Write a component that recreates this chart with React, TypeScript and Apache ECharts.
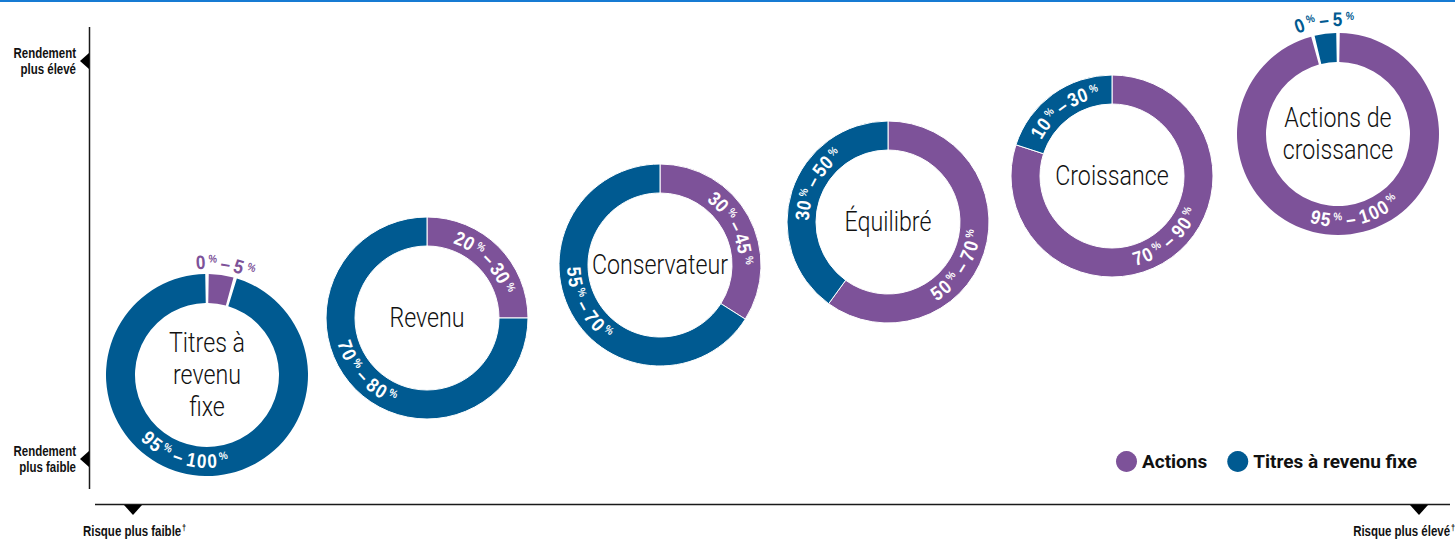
import React, { useEffect, useRef } from 'react';
import * as echarts from 'echarts';

// ---------- data ----------
const categories = ['Titres à revenu fixe', 'Revenu', 'Conservateur', 'Équilibré', 'Croissance', 'Actions de croissance'];
const centerLabels = ['Titres à\nrevenu\nfixe', 'Revenu', 'Conservateur', 'Équilibré', 'Croissance', 'Actions de\ncroissance'];
const seriesNames = ['Actions', 'Titres à revenu fixe'];
const actionsShare = [4.5, 25, 34, 60, 80, 96];
const fixedShare = [95.5, 75, 66, 40, 20, 4];
const actionsRange = [['0', '5'], ['20', '30'], ['30', '45'], ['50', '70'], ['70', '90'], ['95', '100']];
const fixedRange = [['95', '100'], ['70', '80'], ['55', '70'], ['30', '50'], ['10', '30'], ['0', '5']];
const yAxisLabels = ['Rendement\nplus élevé', 'Rendement\nplus faible'];
const xAxisLabels = ['Risque plus faible', 'Risque plus élevé'];

// ---------- layout / style ----------
const PURPLE = '#7d5299';
const BLUE = '#005a91';
const FONT = '"Liberation Sans", Arial, sans-serif';
const LIGHT_FONT = 'Roboto, "Liberation Sans", sans-serif';
const SX = 0.82; // horizontal condensing of text
const SX_ARC = 0.88;
const CENTERS = [[207, 375], [427, 318], [660, 265], [888, 222], [1112, 176], [1338, 134]];
const R_IN = 72;
const R_OUT = 101;
// [angle clockwise from top (deg), radius]
const ACT_LABEL_POS = [[9.5, 113], [46, 86], [63, 86], [122, 86], [139, 86], [168, 86]];
const FIX_LABEL_POS = [[196, 86], [228, 86], [242, 86], [298, 86], [324, 86], [353, 115]];
const BIG = 19.5;
const SMALL = 11;

let measureCtx: CanvasRenderingContext2D | null = null;
function measure(text: string, font: string) {
  if (!measureCtx) measureCtx = document.createElement('canvas').getContext('2d');
  measureCtx!.font = font;
  return measureCtx!.measureText(text).width;
}

function arcLabel(cx: number, cy: number, thetaDeg: number, r: number, range: string[], color: string) {
  const segs = [
    { t: range[0], size: BIG, raise: 0, after: 3 },
    { t: '%', size: SMALL, raise: 3.5, after: 4 },
    { t: '–', size: BIG, raise: 0, after: 4 },
    { t: range[1], size: BIG, raise: 0, after: 3 },
    { t: '%', size: SMALL, raise: 3.5, after: 0 },
  ];
  const chars: any[] = [];
  segs.forEach((s) => {
    const font = `bold ${s.size}px ${FONT}`;
    const arr = s.t.split('');
    arr.forEach((ch, k) => {
      const w = measure(ch, font) * SX_ARC;
      chars.push({ ch, font, w, raise: s.raise, gap: k === arr.length - 1 ? s.after : 0.8 });
    });
  });
  const L = chars.reduce((a, c) => a + c.w + c.gap, 0) - chars[chars.length - 1].gap;
  const th = (thetaDeg * Math.PI) / 180;
  const upper = Math.cos(th) > 0;
  let s = -L / 2;
  const els: any[] = [];
  chars.forEach((c) => {
    const mid = s + c.w / 2;
    const d = mid / r;
    const ang = upper ? th + d : th - d;
    const rr = upper ? r + c.raise : r - c.raise;
    els.push({
      type: 'text',
      x: cx + rr * Math.sin(ang),
      y: cy - rr * Math.cos(ang),
      rotation: upper ? -ang : Math.PI - ang,
      scaleX: SX_ARC,
      z: 100,
      silent: true,
      style: {
        text: c.ch,
        font: c.font,
        fill: color,
        align: 'center',
        verticalAlign: 'middle',
        textAlign: 'center',
        textVerticalAlign: 'middle',
      },
    });
    s += c.w + c.gap;
  });
  return els;
}

export default function App() {
  const ref = useRef<HTMLDivElement>(null);
  useEffect(() => {
    const chart = echarts.init(ref.current!, null, { renderer: 'svg' });
    const graphics: any[] = [];
    const g = (el: any) => graphics.push({ silent: true, z: 100, ...el });
    // top rule
    g({ type: 'rect', shape: { x: 0, y: 0, width: 1455, height: 2 }, style: { fill: '#167bd3' } });
    // axes
    g({ type: 'line', shape: { x1: 89.5, y1: 27, x2: 89.5, y2: 489 }, style: { stroke: '#1a1a1a', lineWidth: 1.5 } });
    g({ type: 'line', shape: { x1: 95, y1: 504.5, x2: 1450, y2: 504.5 }, style: { stroke: '#1a1a1a', lineWidth: 1.5 } });
    g({ type: 'polygon', shape: { points: [[89, 53], [89, 69], [80, 61]] }, style: { fill: '#000' } });
    g({ type: 'polygon', shape: { points: [[89, 451], [89, 467], [80, 459]] }, style: { fill: '#000' } });
    g({ type: 'polygon', shape: { points: [[124, 505], [142, 505], [133, 515]] }, style: { fill: '#000' } });
    g({ type: 'polygon', shape: { points: [[1410, 505], [1428, 505], [1419, 515]] }, style: { fill: '#000' } });
    // y axis labels
    [61, 459].forEach((y, i) => {
      g({
        type: 'text', x: 76, y, scaleX: SX,
        style: { text: yAxisLabels[i], font: `bold 14px ${FONT}`, lineHeight: 16, fill: '#111', align: 'right', verticalAlign: 'middle', textAlign: 'right', textVerticalAlign: 'middle' },
      });
    });
    // x axis labels
    [[83, 'left'], [1455, 'right']].forEach(([x, a]: any, i) => {
      g({
        type: 'text', x, y: 531, scaleX: SX,
        style: {
          text: `{a|${xAxisLabels[i]}}{s|†}`,
          rich: { a: { font: `bold 14px ${FONT}`, fill: '#111' }, s: { font: `bold 9px ${FONT}`, fill: '#111', verticalAlign: 'top', padding: [0, 0, 6, 1] } },
          align: a, verticalAlign: 'middle', textAlign: a, textVerticalAlign: 'middle',
        },
      });
    });
    // center labels + arc labels
    categories.forEach((_, i) => {
      const [cx, cy] = CENTERS[i];
      g({
        type: 'text', x: cx, y: cy, scaleX: 0.86,
        style: { text: centerLabels[i], font: `300 27px ${LIGHT_FONT}`, lineHeight: 32, fill: '#111', align: 'center', verticalAlign: 'middle', textAlign: 'center', textVerticalAlign: 'middle' },
      });
      const ap = ACT_LABEL_POS[i];
      const fp = FIX_LABEL_POS[i];
      graphics.push(...arcLabel(cx, cy, ap[0], ap[1], actionsRange[i], ap[1] > R_OUT ? PURPLE : '#fff'));
      graphics.push(...arcLabel(cx, cy, fp[0], fp[1], fixedRange[i], fp[1] > R_OUT ? BLUE : '#fff'));
    });

    const option: any = {
      animation: false,
      color: [PURPLE, BLUE],
      legend: {
        data: [
          { name: seriesNames[0], itemStyle: { color: PURPLE } },
          { name: seriesNames[1], itemStyle: { color: BLUE } },
        ],
        left: 1111,
        top: 446,
        icon: 'circle',
        itemWidth: 21,
        itemHeight: 21,
        itemGap: 20,
        selectedMode: false,
        textStyle: { fontFamily: 'Roboto, sans-serif', fontWeight: 'bold', fontSize: 19, color: '#111' },
      },
      series: categories.map((c, i) => {
        const small = Math.min(actionsShare[i], fixedShare[i]) < 10;
        return {
          type: 'pie',
          name: 'Profil : ' + c,
          center: CENTERS[i],
          radius: [R_IN, R_OUT],
          startAngle: 90,
          clockwise: true,
          padAngle: small ? 2 : 0,
          silent: true,
          label: { show: false },
          labelLine: { show: false },
          itemStyle: { borderColor: '#fff', borderWidth: small ? 0 : 1 },
          data: [
            { name: seriesNames[0], value: actionsShare[i], itemStyle: { color: PURPLE } },
            { name: seriesNames[1], value: fixedShare[i], itemStyle: { color: BLUE } },
          ],
        };
      }),
      graphic: graphics,
    };
    chart.setOption(option);
    return () => chart.dispose();
  }, []);
  return <div ref={ref} style={{ position: 'fixed', left: 0, top: 0, width: 1455, height: 539, background: '#fff' }} />;
}
